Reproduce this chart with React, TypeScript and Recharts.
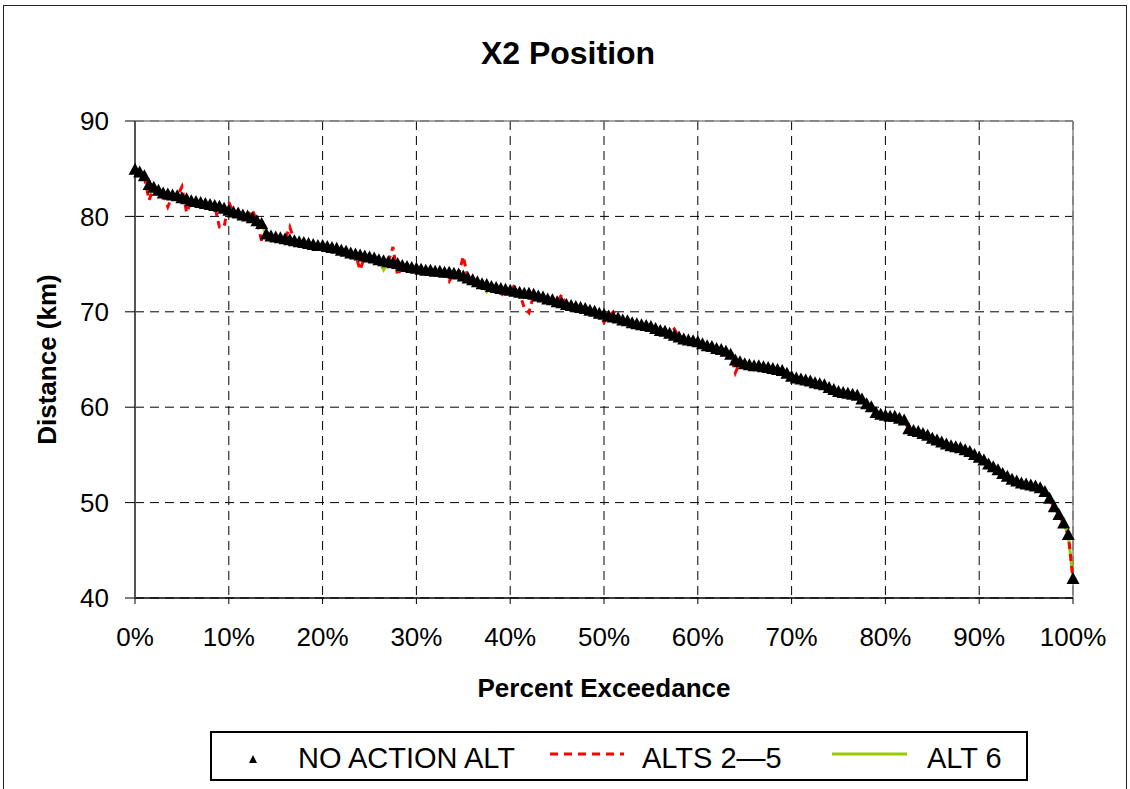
import React from "react";
import {
  ComposedChart,
  Line,
  XAxis,
  YAxis,
  CartesianGrid,
  ReferenceLine,
  Label,
} from "recharts";

// Percent exceedance, 0.5% steps
const PCT_STEP = 0.5;

// NO ACTION ALT, every 0.5%
const NO_ACTION = [
  84.9, 84.6, 84.2, 83.3, 83.0, 82.7, 82.4, 82.3, 82.2, 82.1,
  81.9, 81.8, 81.6, 81.5, 81.4, 81.3, 81.2, 81.1, 81.0, 80.8,
  80.6, 80.4, 80.3, 80.1, 80.0, 79.8, 79.5, 79.2, 78.1, 77.9,
  77.8, 77.7, 77.6, 77.5, 77.4, 77.3, 77.2, 77.1, 77.0, 76.9,
  76.9, 76.8, 76.7, 76.6, 76.4, 76.3, 76.1, 76.0, 75.9, 75.8,
  75.7, 75.6, 75.4, 75.3, 75.2, 75.1, 75.0, 74.8, 74.7, 74.6,
  74.5, 74.4, 74.3, 74.3, 74.2, 74.2, 74.1, 74.1, 74.0, 73.9,
  73.7, 73.5, 73.3, 73.1, 72.9, 72.8, 72.6, 72.5, 72.4, 72.3,
  72.2, 72.1, 72.0, 71.9, 71.9, 71.8, 71.6, 71.5, 71.3, 71.2,
  71.0, 70.9, 70.7, 70.6, 70.5, 70.4, 70.3, 70.1, 70.0, 69.8,
  69.7, 69.5, 69.4, 69.3, 69.1, 69.0, 68.8, 68.7, 68.6, 68.5,
  68.4, 68.2, 68.0, 67.9, 67.7, 67.5, 67.3, 67.1, 67.0, 66.9,
  66.8, 66.6, 66.4, 66.3, 66.1, 66.0, 65.8, 65.5, 64.9, 64.7,
  64.5, 64.4, 64.3, 64.3, 64.2, 64.1, 64.0, 63.9, 63.8, 63.5,
  63.2, 63.0, 62.9, 62.8, 62.7, 62.5, 62.4, 62.3, 62.0, 61.8,
  61.6, 61.5, 61.4, 61.3, 61.2, 60.8, 60.3, 60.0, 59.4, 59.2,
  59.1, 59.0, 59.0, 58.8, 58.6, 57.7, 57.5, 57.4, 57.2, 57.0,
  56.7, 56.5, 56.3, 56.1, 55.9, 55.8, 55.7, 55.5, 55.3, 55.0,
  54.7, 54.4, 54.0, 53.7, 53.4, 53.0, 52.7, 52.4, 52.2, 52.0,
  51.9, 51.8, 51.7, 51.5, 51.1, 50.4, 49.5, 48.7, 47.8, 46.6,
  42.0,
];

// ALTS 2-5: where they leave the NO ACTION curve
const ALTS_PCT = [1.5, 3.5, 5.0, 5.5, 9.0, 9.5, 10.0, 12.5, 13.5, 16.5, 24.0, 27.5, 28.0, 33.5, 35.0, 39.0, 40.5, 41.5, 42.0, 45.5, 50.0, 51.0, 57.5, 64.0];
const ALTS_VAL = [81.7, 81.0, 83.1, 80.4, 78.9, 78.9, 81.5, 80.7, 77.4, 78.9, 74.4, 76.8, 73.8, 73.2, 75.8, 71.6, 72.8, 70.4, 69.9, 71.8, 68.9, 70.0, 68.2, 63.6];

// ALT 6: where it leaves the NO ACTION curve
const ALT6_PCT = [26.5, 37.5];
const ALT6_VAL = [74.4, 72.1];

const X_TICKS = [0, 10, 20, 30, 40, 50, 60, 70, 80, 90, 100];
const Y_TICKS = [40, 50, 60, 70, 80, 90];

const FONT = "Arial, 'Liberation Sans', sans-serif";

const data = NO_ACTION.map((v, i) => {
  const x = i * PCT_STEP;
  const a = ALTS_PCT.indexOf(x);
  const g = ALT6_PCT.indexOf(x);
  return {
    x,
    na: v,
    alts: a >= 0 ? ALTS_VAL[a] : v,
    alt6: g >= 0 ? ALT6_VAL[g] : v,
  };
});

const Triangle = (props: any) => {
  const { cx, cy, index } = props;
  if (cx == null || cy == null) return null;
  return (
    <polygon
      key={`t-${index}`}
      points={`${cx},${cy - 7} ${cx - 6.5},${cy + 5} ${cx + 6.5},${cy + 5}`}
      fill="#000"
    />
  );
};

function ChartLegend() {
  const txt: React.CSSProperties = { position: "absolute", top: 10, fontSize: 29, fontFamily: FONT, lineHeight: "30px", color: "#000", whiteSpace: "nowrap" };
  return (
    <div style={{ position: "absolute", left: 210, top: 731, width: 814, height: 46, border: "2px solid #000" }}>
      <svg width={814} height={46} style={{ position: "absolute", left: 0, top: 0 }}>
        <polygon points="41,22 37,30 45,30" fill="#000" />
        <line x1={338} y1={21} x2={412} y2={21} stroke="#ff0000" strokeWidth={3} strokeDasharray="8 6" />
        <line x1={620} y1={21} x2={695} y2={21} stroke="#99cc00" strokeWidth={3} />
      </svg>
      <div style={{ ...txt, left: 86 }}>NO ACTION ALT</div>
      <div style={{ ...txt, left: 430 }}>ALTS 2—5</div>
      <div style={{ ...txt, left: 715 }}>ALT 6</div>
    </div>
  );
}

export default function App() {
  return (
    <div style={{ position: "absolute", left: 0, top: 0, width: 1130, height: 789, background: "#fff", overflow: "hidden", fontFamily: FONT }}>
      <div style={{ position: "absolute", left: 3, top: 5, width: 1122, height: 800, border: "1px solid #222" }} />
      <div style={{ position: "absolute", left: 0, top: 37, width: 1136, textAlign: "center", fontSize: 32, fontWeight: "bold", lineHeight: "32px" }}>
        X2 Position
      </div>
      <ComposedChart width={1130} height={789} data={data} margin={{ top: 121, right: 57, bottom: 0, left: 0 }}>
        <CartesianGrid stroke="#000" strokeDasharray="9 6" strokeWidth={1} />
        <XAxis
          dataKey="x"
          type="number"
          domain={[0, 100]}
          ticks={X_TICKS}
          interval={0}
          tickFormatter={(v) => `${v}%`}
          height={191}
          tickSize={6}
          tickMargin={24}
          tick={{ fontSize: 26, fill: "#000", fontFamily: FONT }}
          axisLine={{ stroke: "#000", strokeWidth: 1.5 }}
          tickLine={{ stroke: "#000" }}
        >
          <Label value="Percent Exceedance" position="insideTop" offset={81} style={{ fontSize: 26, fontWeight: "bold", fill: "#000", fontFamily: FONT }} />
        </XAxis>
        <YAxis
          type="number"
          domain={[40, 90]}
          ticks={Y_TICKS}
          interval={0}
          width={135}
          tickSize={10}
          tickMargin={16}
          tick={{ fontSize: 26, fill: "#000", fontFamily: FONT }}
          axisLine={{ stroke: "#555", strokeWidth: 2 }}
          tickLine={{ stroke: "#000" }}
        >
          <Label value="Distance (km)" angle={-90} position="insideLeft" offset={47} style={{ fontSize: 26, fontWeight: "bold", fill: "#000", fontFamily: FONT, textAnchor: "middle" }} />
        </YAxis>
        <ReferenceLine y={90} stroke="#888" strokeWidth={1.5} />
        <ReferenceLine x={100} stroke="#888" strokeWidth={1.5} />
        <Line type="linear" dataKey="alt6" stroke="#99cc00" strokeWidth={3} dot={false} activeDot={false} isAnimationActive={false} />
        <Line type="linear" dataKey="alts" stroke="#ff0000" strokeWidth={3} strokeDasharray="7 5" dot={false} activeDot={false} isAnimationActive={false} />
        <Line type="linear" dataKey="na" stroke="none" dot={<Triangle />} activeDot={false} isAnimationActive={false} />
      </ComposedChart>
      <ChartLegend />
    </div>
  );
}
